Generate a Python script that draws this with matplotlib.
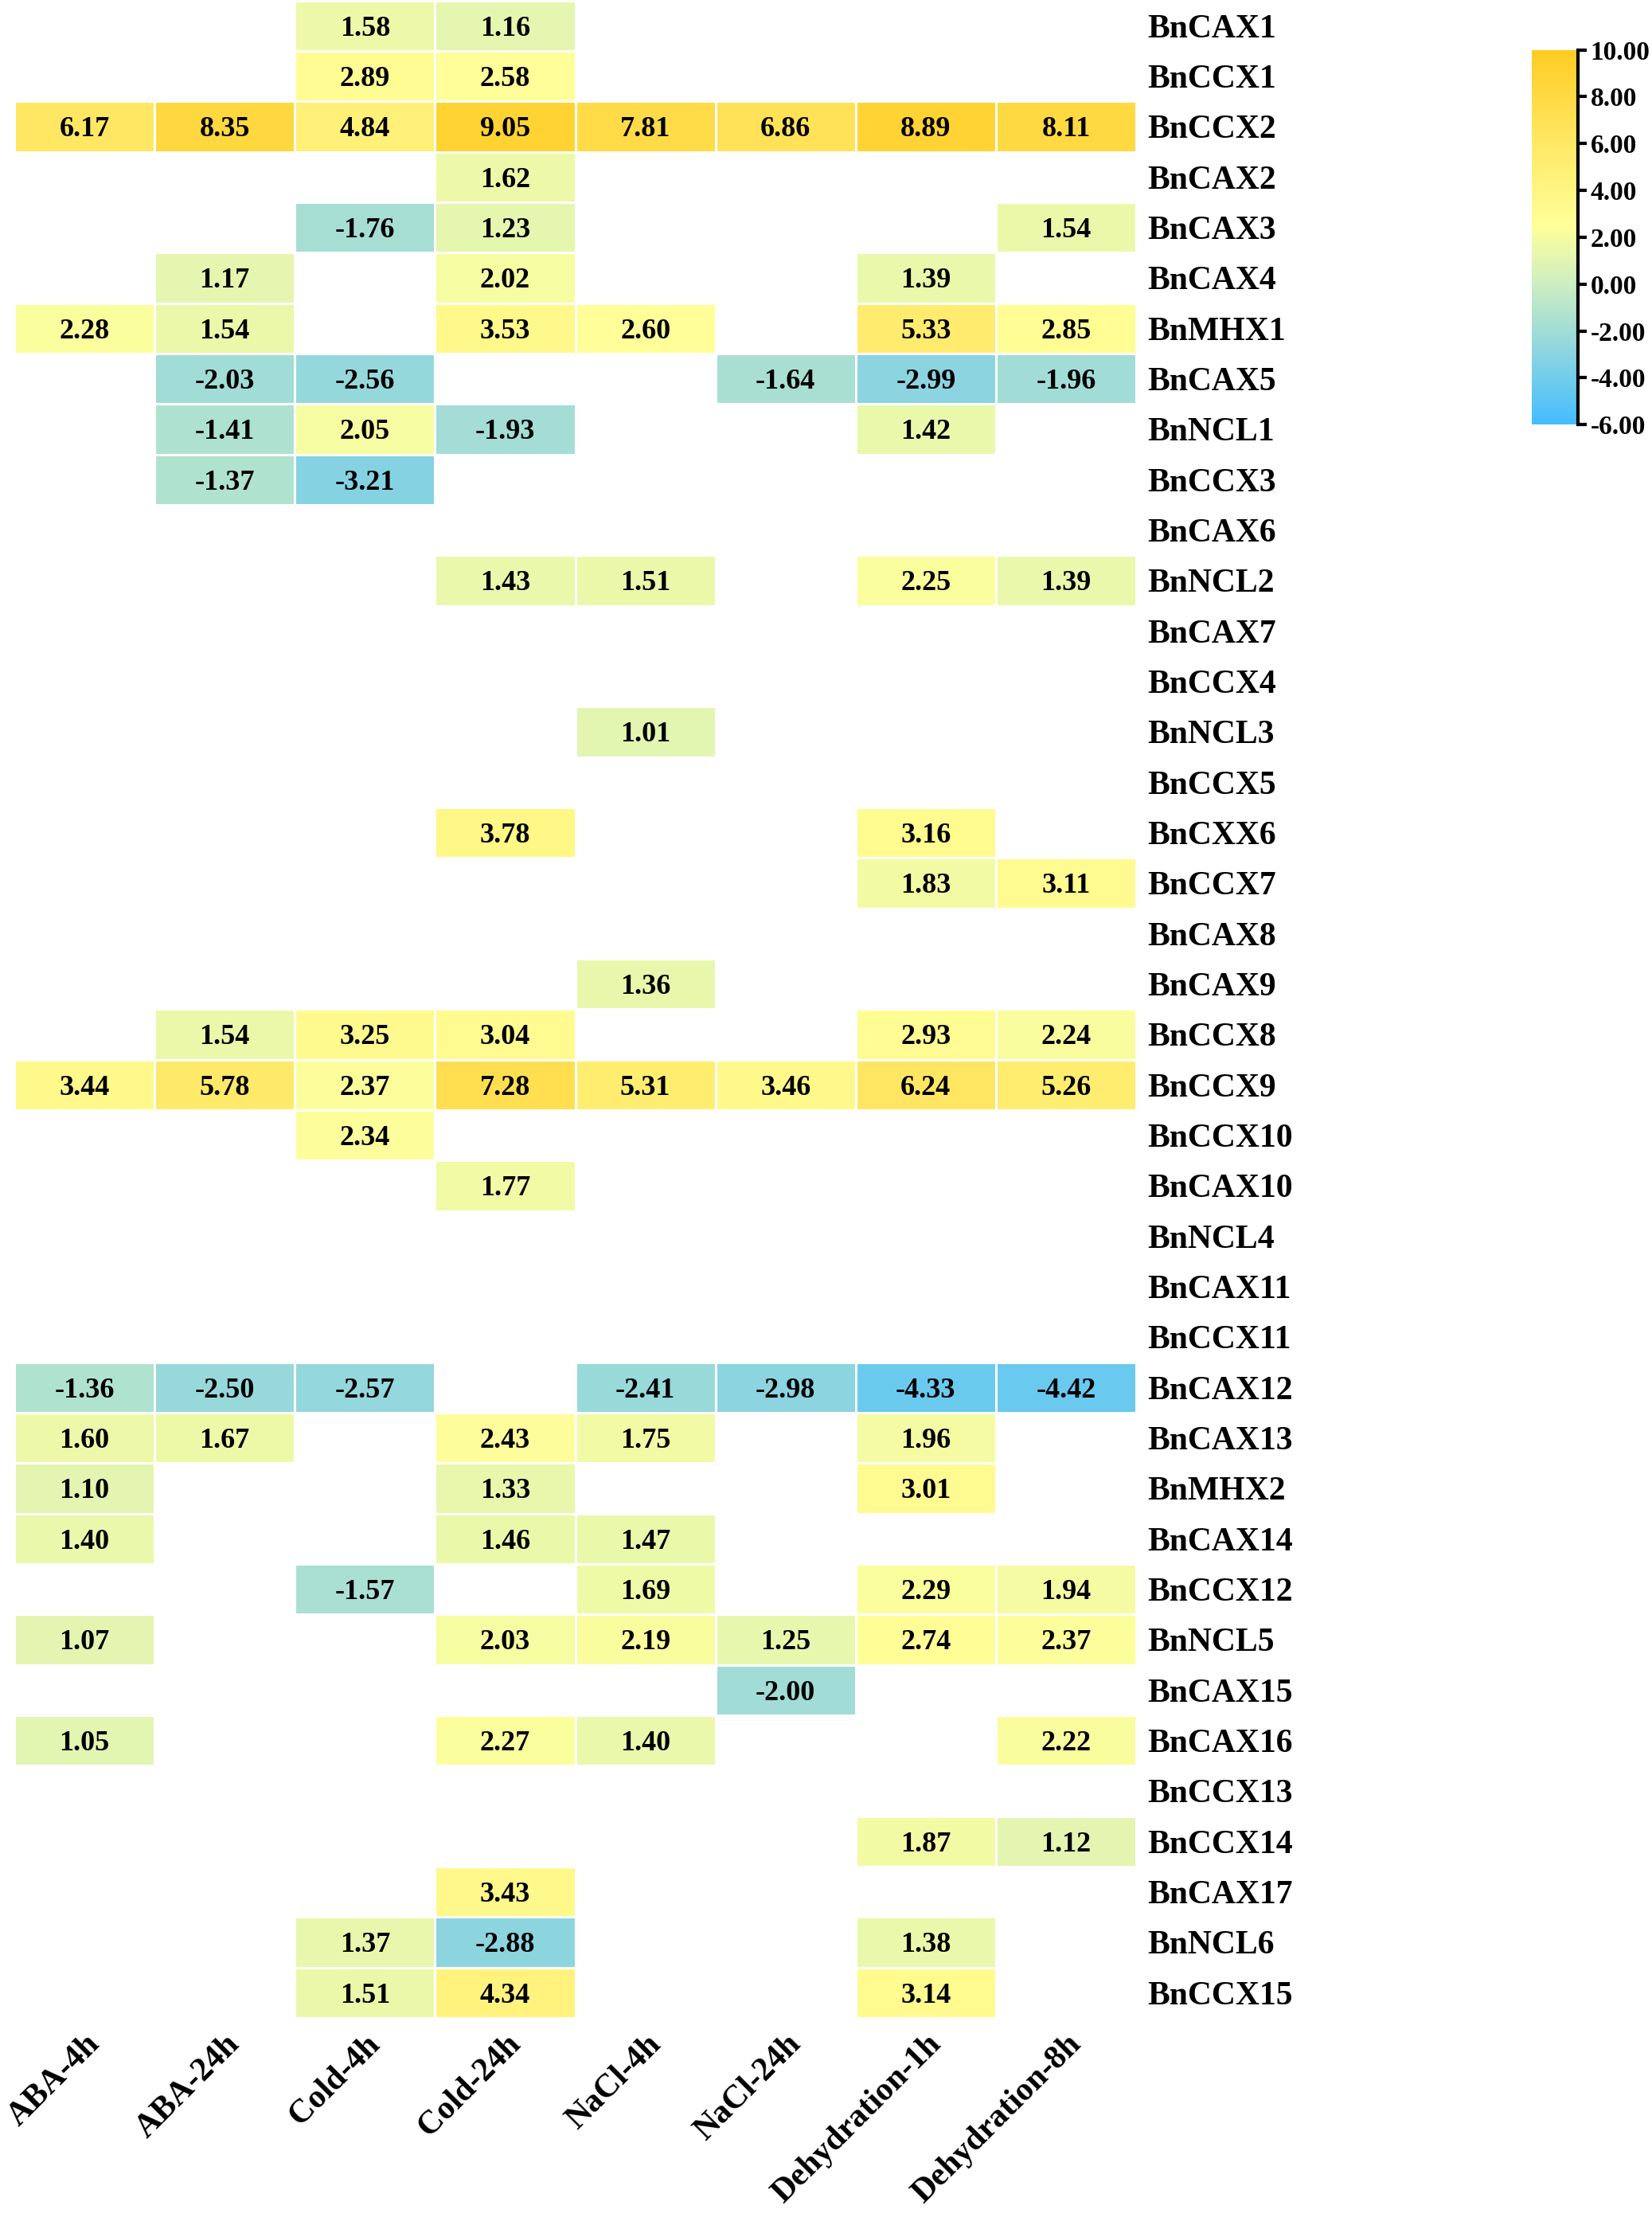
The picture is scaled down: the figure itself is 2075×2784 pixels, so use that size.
import numpy as np
import matplotlib
matplotlib.use("Agg")
import matplotlib.pyplot as plt
from matplotlib.colors import LinearSegmentedColormap

conditions = ["ABA-4h", "ABA-24h", "Cold-4h", "Cold-24h", "NaCl-4h", "NaCl-24h",
              "Dehydration-1h", "Dehydration-8h"]
genes = ["BnCAX1", "BnCCX1", "BnCCX2", "BnCAX2", "BnCAX3", "BnCAX4", "BnMHX1", "BnCAX5",
         "BnNCL1", "BnCCX3", "BnCAX6", "BnNCL2", "BnCAX7", "BnCCX4", "BnNCL3", "BnCCX5",
         "BnCXX6", "BnCCX7", "BnCAX8", "BnCAX9", "BnCCX8", "BnCCX9", "BnCCX10", "BnCAX10",
         "BnNCL4", "BnCAX11", "BnCCX11", "BnCAX12", "BnCAX13", "BnMHX2", "BnCAX14", "BnCCX12",
         "BnNCL5", "BnCAX15", "BnCAX16", "BnCCX13", "BnCCX14", "BnCAX17", "BnNCL6", "BnCCX15"]
n = np.nan
values = [
    [n, n, 1.58, 1.16, n, n, n, n],
    [n, n, 2.89, 2.58, n, n, n, n],
    [6.17, 8.35, 4.84, 9.05, 7.81, 6.86, 8.89, 8.11],
    [n, n, n, 1.62, n, n, n, n],
    [n, n, -1.76, 1.23, n, n, n, 1.54],
    [n, 1.17, n, 2.02, n, n, 1.39, n],
    [2.28, 1.54, n, 3.53, 2.60, n, 5.33, 2.85],
    [n, -2.03, -2.56, n, n, -1.64, -2.99, -1.96],
    [n, -1.41, 2.05, -1.93, n, n, 1.42, n],
    [n, -1.37, -3.21, n, n, n, n, n],
    [n, n, n, n, n, n, n, n],
    [n, n, n, 1.43, 1.51, n, 2.25, 1.39],
    [n, n, n, n, n, n, n, n],
    [n, n, n, n, n, n, n, n],
    [n, n, n, n, 1.01, n, n, n],
    [n, n, n, n, n, n, n, n],
    [n, n, n, 3.78, n, n, 3.16, n],
    [n, n, n, n, n, n, 1.83, 3.11],
    [n, n, n, n, n, n, n, n],
    [n, n, n, n, 1.36, n, n, n],
    [n, 1.54, 3.25, 3.04, n, n, 2.93, 2.24],
    [3.44, 5.78, 2.37, 7.28, 5.31, 3.46, 6.24, 5.26],
    [n, n, 2.34, n, n, n, n, n],
    [n, n, n, 1.77, n, n, n, n],
    [n, n, n, n, n, n, n, n],
    [n, n, n, n, n, n, n, n],
    [n, n, n, n, n, n, n, n],
    [-1.36, -2.50, -2.57, n, -2.41, -2.98, -4.33, -4.42],
    [1.60, 1.67, n, 2.43, 1.75, n, 1.96, n],
    [1.10, n, n, 1.33, n, n, 3.01, n],
    [1.40, n, n, 1.46, 1.47, n, n, n],
    [n, n, -1.57, n, 1.69, n, 2.29, 1.94],
    [1.07, n, n, 2.03, 2.19, 1.25, 2.74, 2.37],
    [n, n, n, n, n, -2.00, n, n],
    [1.05, n, n, 2.27, 1.40, n, n, 2.22],
    [n, n, n, n, n, n, n, n],
    [n, n, n, n, n, n, 1.87, 1.12],
    [n, n, n, 3.43, n, n, n, n],
    [n, n, 1.37, -2.88, n, n, 1.38, n],
    [n, n, 1.51, 4.34, n, n, 3.14, n],
]
data = np.array(values)

plt.rcParams["font.family"] = "Liberation Serif"
plt.rcParams["font.weight"] = "bold"

vmin, vmax = -6, 10
nodes = [(-6, "#44bdff"), (-2, "#a2dcd6"), (0, "#cdeec2"), (2.5, "#ffff99"),
         (6, "#ffe866"), (10, "#ffcc22")]
cmap = LinearSegmentedColormap.from_list(
    "expr", [((v - vmin) / (vmax - vmin), c) for v, c in nodes])

fig = plt.figure(figsize=(20.75, 27.84), dpi=100)
ax = fig.add_axes([0.0087, 0.0898, 0.679, 0.910])
masked = np.ma.masked_invalid(data)
ax.pcolormesh(masked, cmap=cmap, vmin=vmin, vmax=vmax, edgecolors="white", linewidth=2)
ax.set_xlim(0, len(conditions))
ax.set_ylim(len(genes), 0)

for i in range(len(genes)):
    for j in range(len(conditions)):
        if not np.isnan(data[i, j]):
            ax.text(j + 0.5, i + 0.5, f"{data[i, j]:.2f}", ha="center",
                    va="center_baseline", fontsize=26, fontweight="bold")

ax.set_yticks(np.arange(len(genes)) + 0.5)
ax.set_yticklabels(genes, fontsize=30, fontweight="bold")
ax.yaxis.tick_right()
ax.set_xticks(np.arange(len(conditions)) + 0.5)
ax.set_xticklabels(conditions, fontsize=30, fontweight="bold", rotation=45,
                   ha="right", va="top", rotation_mode="anchor")
ax.tick_params(length=0, pad=10)
for s in ax.spines.values():
    s.set_visible(False)

cax = fig.add_axes([0.927, 0.8085, 0.028, 0.169])
sm = plt.cm.ScalarMappable(cmap=cmap, norm=plt.Normalize(vmin, vmax))
cb = fig.colorbar(sm, cax=cax, ticks=np.arange(-6, 11, 2))
cb.ax.set_yticklabels([f"{t:.2f}" for t in np.arange(-6, 11, 2)], fontsize=24,
                      fontweight="bold")
cb.outline.set_visible(False)
cb.ax.spines["right"].set_visible(True)
cb.ax.spines["right"].set_linewidth(3)
cb.ax.tick_params(width=3, length=8)

fig.savefig("out.png", dpi=100)
